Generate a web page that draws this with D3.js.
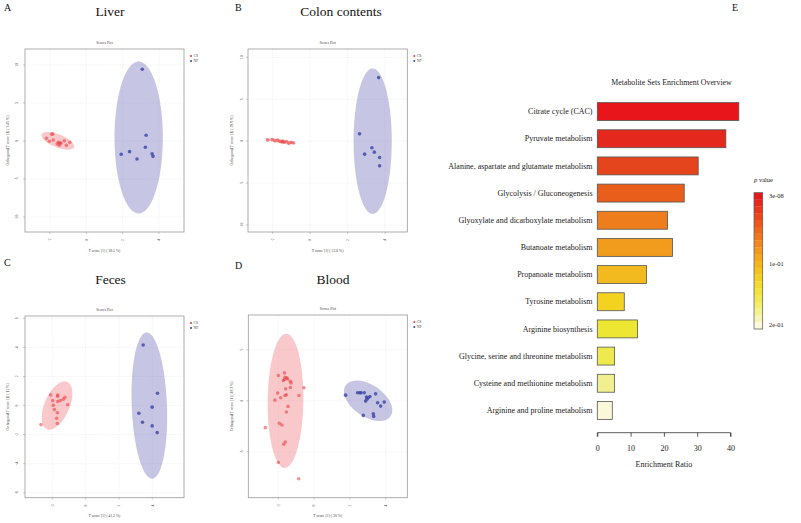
<!DOCTYPE html>
<html><head><meta charset="utf-8">
<script src="https://cdn.jsdelivr.net/npm/d3@7"></script>
<style>body{margin:0;background:#fff}svg{display:block}</style>
</head><body><svg id="c" width="801" height="523" font-family="'Liberation Serif', 'Times New Roman', Times, Tinos, 'DejaVu Serif', serif"></svg>
<script>
// ---------- DATA ----------
const groups = ["CS", "NF"];
const liverCS = [[-1.85,0.92],[-1.9,0.9],[-2.2,0.35],[-2.04,-0.04],[-1.82,0.13],[-1.54,-0.18],[-1.45,-0.26],[-1.48,-0.57],[-1.6,-0.39],[-1.21,0.04],[-1.1,-0.57],[-0.91,-0.18],[-1.39,-0.26]];
const liverNF = [[3.08,9.43],[3.29,0.75],[3.25,-0.83],[2.38,-1.4],[1.92,-1.75],[2.79,-2.37],[3.62,-1.67],[3.67,-2.02]];
const colonCS = [[-2.27,0.12],[-2.02,0.2],[-1.88,0.04],[-1.73,0.12],[-1.61,-0.04],[-1.46,0],[-1.38,-0.12],[-1.25,-0.04],[-1.14,-0.28],[-1.02,-0.12],[-0.9,-0.2],[-1.5,-0.1]];
const colonNF = [[3.66,7.58],[2.64,0.87],[3.3,-0.79],[3.43,-1.31],[2.91,-1.55],[3.71,-1.94],[3.71,-2.94]];
const fecesCS = [[-2.1,0.73],[-1.68,0.73],[-1.68,0.64],[-1.98,0.34],[-1.34,0.44],[-1.24,0.57],[-1.52,0.34],[-1.68,0.28],[-1.94,0.02],[-1.08,0.05],[-1.88,-0.28],[-1.7,-0.5],[-1.74,-0.87],[-1.7,-1.24],[-2.68,-1.31]];
const fecesNF = [[3.45,4.17],[4.31,0.85],[3.99,-0.11],[3.19,-0.53],[3.41,-1.15],[3.99,-1.4],[4.29,-1.86]];
const bloodCS = [[-2,2.47],[-1.66,2.73],[-1.63,2.31],[-1.53,2.24],[-1.66,2.08],[-1.72,1.98],[-1.33,1.92],[-1.29,1.75],[-1.33,1.3],[-1.59,1.17],[-2.04,0.75],[-1.55,0.58],[-1.63,0.52],[-1.87,0.29],[-2.19,0.06],[-0.85,0.52],[-0.57,1.27],[-1.46,-0.55],[-1.55,-1.1],[-1.94,-2.21],[-1.8,-2.37],[-2.73,-2.63],[-1.61,-4.03],[-1.7,-4.25],[-2,-6.04],[-0.86,-7.63],[-1.48,2.14]];
const bloodNF = [[1.76,0.55],[2.43,0.78],[2.56,0.78],[2.62,0.78],[2.8,0.78],[2.93,0.36],[3.03,0.29],[3.12,0.42],[2.95,0.16],[2.88,-0.03],[3.44,0.68],[2.75,-1.43],[3.31,-1.27],[3.33,-1.53],[3.55,-0.19],[3.72,-0.52],[3.92,-0.13]];
// ellipses: [centerX, centerY, halfWidthX, halfWidthY, correlation]
const liverEllipses = [[-1.57,0.02,0.9,1.16,-0.62],[2.88,0.46,1.33,10.0,0.0]];
const colonEllipses = [[-1.6,0.0,0.85,0.38,-0.8],[3.34,0.0,1.02,8.67,0.0]];
const fecesEllipses = [[-1.72,0.0,0.92,1.66,0.5],[3.82,0.0,1.07,5.03,-0.15]];
const bloodEllipses = [[-1.6,0.0,1.0,6.57,0.04],[3.02,0.0,1.35,1.98,-0.47]];
const xLabels = ["T score [1] ( 38.5 %)","T score [1] ( 33.6 %)","T score [1] ( 41.2 %)","T score [1] ( 30 %)"];
const yLabels = ["Orthogonal T score [1] ( 3.45 %)","Orthogonal T score [1] ( 29.9 %)","Orthogonal T score [1] ( 12 %)","Orthogonal T score [1] ( 48.3 %)"];
const panelTitles = ["Liver","Colon contents","Feces","Blood"];
const panelLetters = ["A","B","C","D"];
const scoreXTicks = [-2,0,2,4];
const liverYTicks = [-10,-5,0,5,10];
const colonYTicks = [-10,-5,0,5,10];
const fecesYTicks = [-6,-4,-2,0,2,4,6];
const bloodYTicks = [-5,0,5];

const pathways = ["Citrate cycle (CAC)","Pyruvate metabolism","Alanine, aspartate and glutamate metabolism","Glycolysis / Gluconeogenesis","Glyoxylate and dicarboxylate metabolism","Butanoate metabolism","Propanoate metabolism","Tyrosine metabolism","Arginine biosynthesis","Glycine, serine and threonine metabolism","Cysteine and methionine metabolism","Arginine and proline metabolism"];
const enrichment = [42.5,38.6,30.3,26.1,21.1,22.6,14.8,8.1,12.1,5.2,5.2,4.5];
const barColors = ["#E8161B","#E4281E","#E5451C","#E95E1A","#EE7E1D","#F29C1E","#F2BA1F","#F3D220","#EDE733","#EEEA4E","#F2EF90","#FAF8D8"];
const ratioTicks = [0,10,20,30,40];
const pLegendLabels = ["3e-08","1e-01","2e-01"];
const pLegendStops = ["#E31A1C","#E8401C","#EE701E","#F29A1F","#F4C21F","#F2E22E","#F0EE70","#FBF9DC"];

// ---------- LAYOUT ----------
const svg = d3.select("#c");
const layout = [
  {box:[25,49,184,232], xd:[-3.376,5.376], yd:[-11.97,12.1], yt:liverYTicks, cs:liverCS, nf:liverNF, el:liverEllipses, letter:[4,11], title:[110,16], ylx:8, tlx:17},
  {box:[248,49,407.3,232], xd:[-3.32,5.19], yd:[-10.83,10.99], yt:colonYTicks, cs:colonCS, nf:colonNF, el:colonEllipses, letter:[235,11], title:[341,16], ylx:232, tlx:241.5},
  {box:[25,316,184,497.7], xd:[-3.64,5.9], yd:[-6.34,6.16], yt:fecesYTicks, cs:fecesCS, nf:fecesNF, el:fecesEllipses, letter:[4,266], title:[110.5,284], ylx:8, tlx:17},
  {box:[248.3,315,407.3,497.7], xd:[-3.68,5.21], yd:[-9.49,8.4], yt:bloodYTicks, cs:bloodCS, nf:bloodNF, el:bloodEllipses, letter:[235,269], title:[333,284], ylx:232, tlx:241.5}
];
const redFill = "rgb(240,110,115)", blueFill = "rgb(118,116,190)";
const redPt = "#E8383D", bluePt = "#3A44A4";

layout.forEach((p,i)=>{
  const [x0,y0,x1,y1] = p.box;
  const x = d3.scaleLinear().domain(p.xd).range([x0,x1]);
  const y = d3.scaleLinear().domain(p.yd).range([y1,y0]);
  const g = svg.append("g");
  svg.append("text").attr("x",p.letter[0]).attr("y",p.letter[1]).attr("font-size",10).attr("fill","#111").text(panelLetters[i]);
  svg.append("text").attr("x",p.title[0]).attr("y",p.title[1]).attr("text-anchor","middle").attr("font-size",13.5).attr("fill","#111").text(panelTitles[i]);
  g.append("text").attr("x",(x0+x1)/2).attr("y",y0-5).attr("text-anchor","middle").attr("font-size",3.6).attr("fill","#444").text("Scores Plot");
  // grid
  g.selectAll(".gx").data(scoreXTicks).join("line").attr("x1",d=>x(d)).attr("x2",d=>x(d)).attr("y1",y0).attr("y2",y1).attr("stroke","#e6e6e6").attr("stroke-width",0.5).attr("stroke-dasharray","1.5,1");
  g.selectAll(".gy").data(p.yt).join("line").attr("y1",d=>y(d)).attr("y2",d=>y(d)).attr("x1",x0).attr("x2",x1).attr("stroke","#e6e6e6").attr("stroke-width",0.5).attr("stroke-dasharray","1.5,1");
  // ellipses
  const fills = [redFill, blueFill];
  p.el.forEach((e,k)=>{
    const [cx,cy,sx,sy,r] = e;
    const ts = d3.range(0, 2*Math.PI+0.001, Math.PI/60);
    const pts = ts.map(t=>[x(cx+sx*Math.cos(t)), y(cy+sy*(r*Math.cos(t)+Math.sqrt(1-r*r)*Math.sin(t)))]);
    g.append("path").attr("d", d3.line()(pts)+"Z").attr("fill",fills[k]).attr("fill-opacity",k===0?0.38:0.42).attr("stroke","none");
  });
  // points
  g.selectAll(".cs").data(p.cs).join("circle").attr("cx",d=>x(d[0])).attr("cy",d=>y(d[1])).attr("r",1.8).attr("fill",redPt).attr("fill-opacity",0.55);
  g.selectAll(".nf").data(p.nf).join("circle").attr("cx",d=>x(d[0])).attr("cy",d=>y(d[1])).attr("r",1.8).attr("fill",bluePt).attr("fill-opacity",0.8);
  // frame
  g.append("rect").attr("x",x0).attr("y",y0).attr("width",x1-x0).attr("height",y1-y0).attr("fill","none").attr("stroke","#999").attr("stroke-width",0.8);
  // x axis ticks
  g.selectAll(".tx").data(scoreXTicks).join("line").attr("x1",d=>x(d)).attr("x2",d=>x(d)).attr("y1",y1).attr("y2",y1+2).attr("stroke","#999").attr("stroke-width",0.5);
  g.selectAll(".lx").data(scoreXTicks).join("text").attr("transform",d=>`translate(${x(d)+1.2},${y1+8}) rotate(-90)`).attr("text-anchor","middle").attr("font-size",3.6).attr("fill","#444").text(d=>d);
  g.selectAll(".ty").data(p.yt).join("line").attr("y1",d=>y(d)).attr("y2",d=>y(d)).attr("x1",x0-2).attr("x2",x0).attr("stroke","#999").attr("stroke-width",0.5);
  g.selectAll(".ly").data(p.yt).join("text").attr("transform",d=>`translate(${p.tlx+1.2},${y(d)}) rotate(-90)`).attr("text-anchor","middle").attr("font-size",3.6).attr("fill","#444").text(d=>d);
  g.append("text").attr("x",(x0+x1)/2).attr("y",y1+19.5).attr("text-anchor","middle").attr("font-size",3.8).attr("fill","#444").text(xLabels[i]);
  g.append("text").attr("transform",`translate(${p.ylx+1.3},${(y0+y1)/2}) rotate(-90)`).attr("text-anchor","middle").attr("font-size",3.8).attr("fill","#444").text(yLabels[i]);
  // legend
  groups.forEach((gr,k)=>{
    g.append("circle").attr("cx",x1+7).attr("cy",y0+7+k*5).attr("r",1).attr("fill",k?bluePt:redPt);
    g.append("text").attr("x",x1+9.5).attr("y",y0+8.3+k*5).attr("font-size",3.8).attr("fill","#444").text(gr);
  });
});

// ---------- PANEL E ----------
svg.append("text").attr("x",732).attr("y",11).attr("font-size",10).attr("fill","#111").text("E");
const xr = d3.scaleLinear().domain([0,40]).range([597.3,730.5]);
const yb = d3.scaleBand().domain(pathways).range([98,424]).paddingInner(0.34).paddingOuter(0.17);
const ge = svg.append("g");
ge.append("text").attr("x",671.5).attr("y",85).attr("text-anchor","middle").attr("font-size",7.85).attr("fill","#222").text("Metabolite Sets Enrichment Overview");
ge.selectAll("rect.bar").data(pathways).join("rect").attr("class","bar")
  .attr("x",xr(0)).attr("y",d=>yb(d)).attr("width",(d,i)=>xr(enrichment[i])-xr(0)).attr("height",yb.bandwidth())
  .attr("fill",(d,i)=>barColors[i]).attr("stroke","#555").attr("stroke-width",0.8);
ge.selectAll("text.cat").data(pathways).join("text").attr("class","cat")
  .attr("x",592.5).attr("y",d=>yb(d)+yb.bandwidth()/2+2.7).attr("text-anchor","end").attr("font-size",8).attr("fill","#222").text(d=>d);
const axisG = ge.append("g").attr("transform","translate(0,432.7)")
  .call(d3.axisBottom(xr).tickValues(ratioTicks).tickSize(4).tickFormat(d3.format("d")));
axisG.attr("font-family",null);
axisG.select(".domain").attr("stroke","#333").attr("stroke-width",0.8).attr("d",`M${xr(0)},4V0H${xr(40)}V4`);
axisG.selectAll(".tick line").attr("stroke","#333").attr("stroke-width",0.8);
axisG.selectAll(".tick text").attr("font-size",8).attr("fill","#222").attr("y",13);
ge.append("text").attr("x",xr(20)).attr("y",467).attr("text-anchor","middle").attr("font-size",8).attr("fill","#222").text("Enrichment Ratio");

// colorbar
const cb = {x:754, y:192.7, w:8.7, h:136.3};
const nSteps = 20;
const interp = d3.interpolateRgbBasis(pLegendStops);
ge.selectAll("rect.cb").data(d3.range(nSteps)).join("rect").attr("class","cb")
  .attr("x",cb.x).attr("y",d=>cb.y+d*cb.h/nSteps).attr("width",cb.w).attr("height",cb.h/nSteps+0.3)
  .attr("fill",d=>interp(d/(nSteps-1)));
ge.append("rect").attr("x",cb.x).attr("y",cb.y).attr("width",cb.w).attr("height",cb.h).attr("fill","none").attr("stroke","#555").attr("stroke-width",0.7);
const pT = ge.append("text").attr("x",754).attr("y",182).attr("font-size",6.5).attr("fill","#222");
pT.append("tspan").attr("font-style","italic").text("p");
pT.append("tspan").text(" value");
const pY = [195.5, 264, 325];
ge.selectAll("text.pl").data(pLegendLabels).join("text").attr("class","pl")
  .attr("x",769).attr("y",(d,i)=>pY[i]+2.3).attr("font-size",6.5).attr("fill","#222").text(d=>d);
</script></body></html>
